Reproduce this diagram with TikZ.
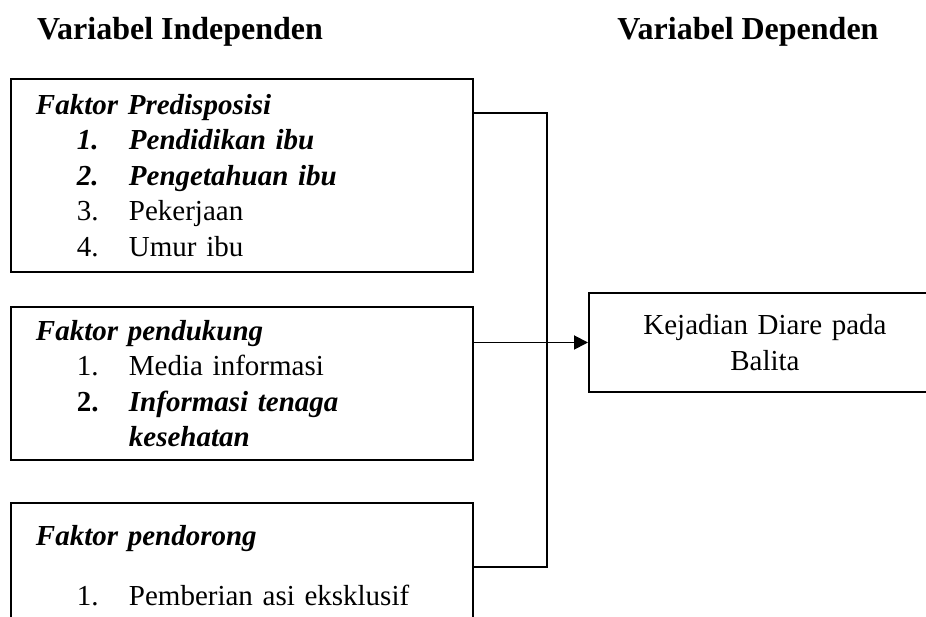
\documentclass[tikz,border=0pt]{standalone}
\usepackage{fontspec}
\setmainfont{Liberation Serif}
\usetikzlibrary{positioning,arrows.meta}

\newcommand{\faktoritem}[2]{\hspace*{41pt}\makebox[52pt][l]{#1}#2}
\newcommand{\bi}[1]{\textbf{\textit{#1}}}

\begin{document}
\begin{tikzpicture}[x=1pt,y=1pt,line width=1.9pt,
  judul/.style={anchor=base,font=\fontsize{32}{38}\selectfont\bfseries},
  faktor/.style={draw,align=left,text width=412pt,inner xsep=25pt,inner ysep=0pt,
    minimum width=462pt,font=\fontsize{29}{35.5}\selectfont},
  hasil/.style={draw,align=center,text width=352pt,inner sep=0pt,
    minimum width=352pt,minimum height=99pt,font=\fontsize{29}{35.5}\selectfont}]

\useasboundingbox (0,0) rectangle (926,617);
\clip (0,0) rectangle (926,617);

\node [judul] (indep) at (180,577) {Variabel Independen};
\node [judul] (dep) at (748,577) {Variabel Dependen};

\node [faktor,anchor=north west,minimum height=193pt] (predis) at (10,539)
{\bi{Faktor Predisposisi}\\
\faktoritem{\bi{1.}}{\bi{Pendidikan ibu}}\\
\faktoritem{\bi{2.}}{\bi{Pengetahuan ibu}}\\
\faktoritem{3.}{Pekerjaan}\\
\faktoritem{4.}{Umur ibu}};

\node [faktor,below=33pt of predis,minimum height=153pt] (dukung)
{\bi{Faktor pendukung}\\
\faktoritem{1.}{Media informasi}\\
\faktoritem{\textbf{2.}}{\bi{Informasi tenaga}}\\
\faktoritem{}{\bi{kesehatan}}};

\node [faktor,below=41pt of dukung,minimum height=126pt] (dorong)
{\bi{Faktor pendorong}\\[24.5pt]
\faktoritem{1.}{Pemberian asi eksklusif}};

\node [hasil,anchor=west] (diare) at (588,274.5) {Kejadian Diare pada\\Balita};

\draw ([yshift=-35pt]predis.north east) -- ++(73,0) |- ([yshift=-65pt]dorong.north east);
\draw [-{Triangle[length=14pt,width=14pt]}] (dukung.east |- diare.west) -- (diare.west);

\end{tikzpicture}
\end{document}
